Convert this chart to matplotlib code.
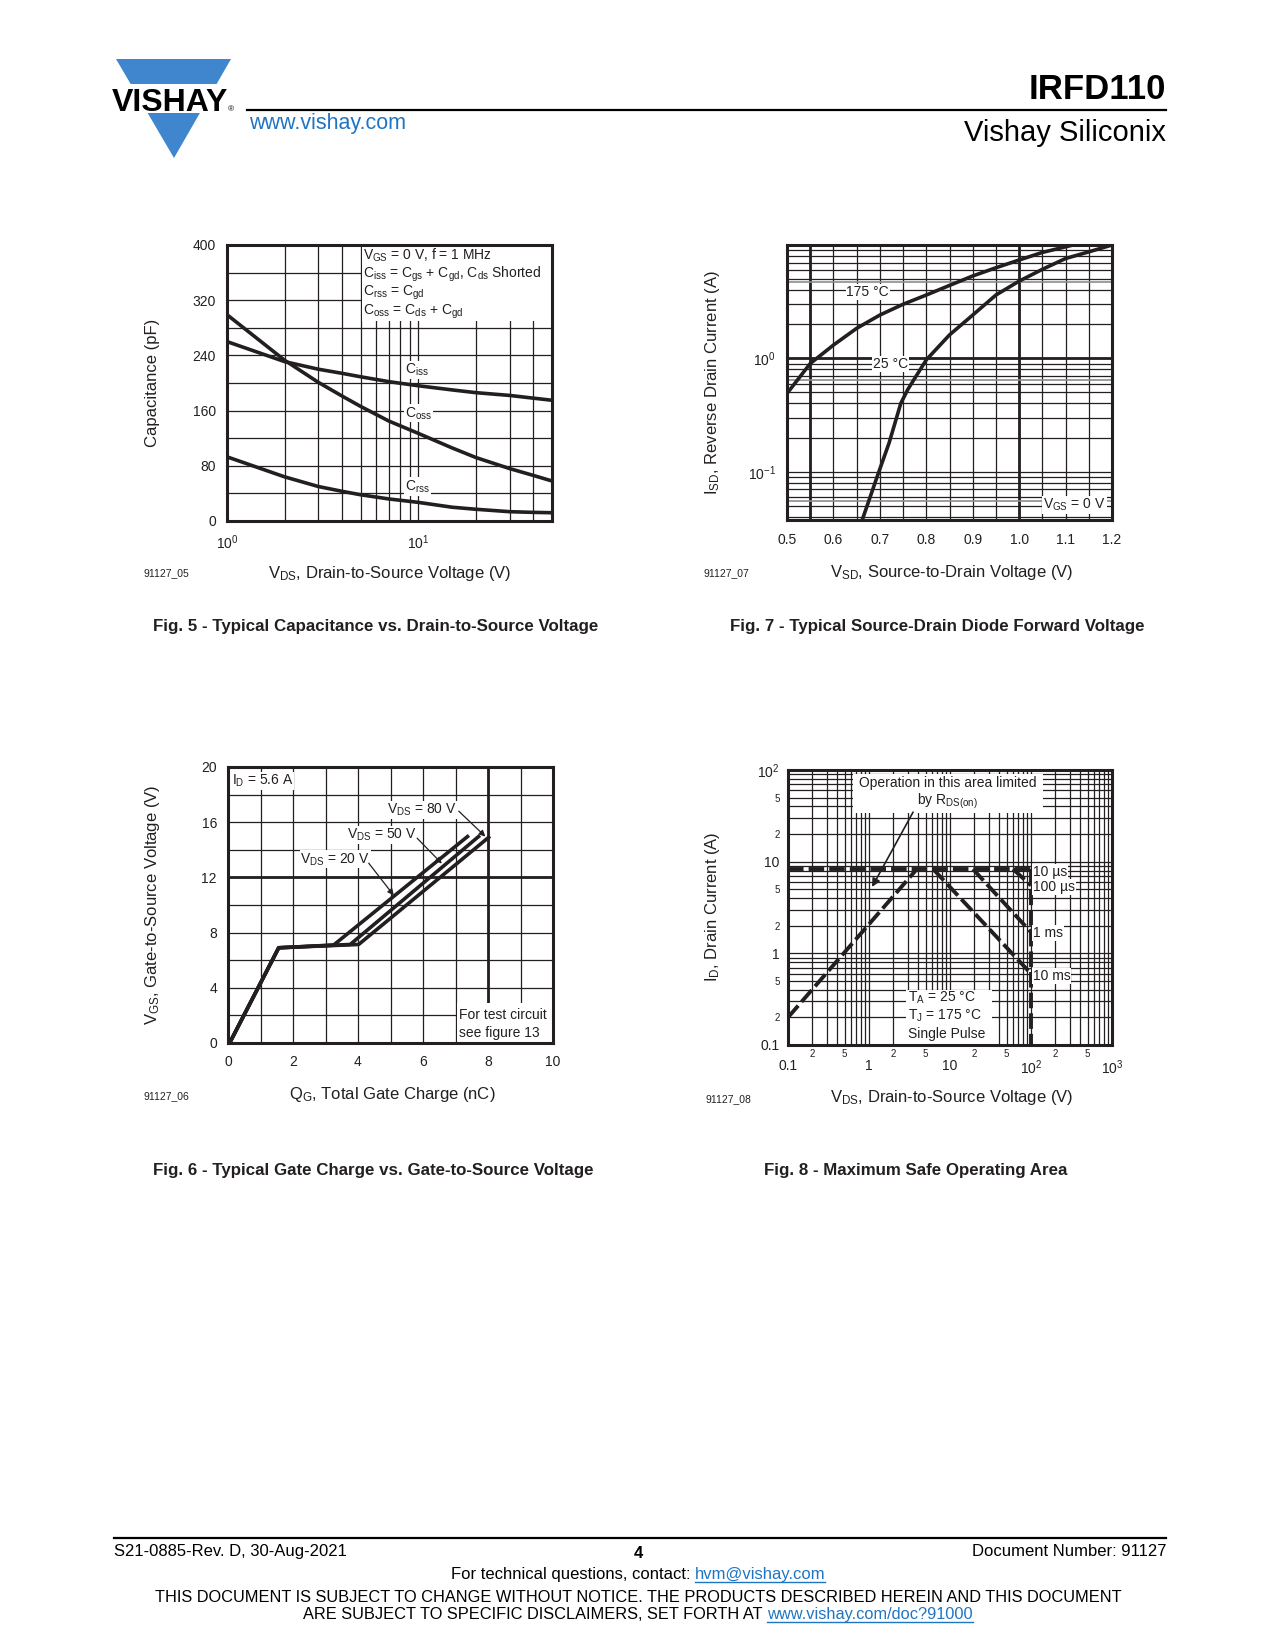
import numpy as np
import matplotlib
matplotlib.use("Agg")
import matplotlib.pyplot as plt
from matplotlib.patches import Polygon, Rectangle
from matplotlib.ticker import FixedLocator, FixedFormatter, FuncFormatter, NullFormatter

W, H = 1275, 1650
INK = "#231f20"
BLUE = "#3f86cf"
LINK = "#1f75c4"

plt.rcParams["font.family"] = ["Liberation Sans", "DejaVu Sans"]
plt.rcParams["mathtext.fontset"] = "custom"
plt.rcParams["mathtext.rm"] = "Liberation Sans"
plt.rcParams["mathtext.it"] = "Liberation Sans:italic"
plt.rcParams["mathtext.bf"] = "Liberation Sans:bold"
plt.rcParams["text.color"] = INK

# Fig. 5 - capacitance vs VDS
cap_vds = [1, 2, 3, 4, 5, 7, 10, 15, 20, 30, 40, 50]
ciss = [260, 231, 220, 214, 209, 202, 196, 190, 186, 182, 178, 175]
coss = [299, 233, 201, 181, 166, 145, 127, 106, 92, 76, 66, 58]
crss = [93, 64, 50, 43, 38, 32, 27, 20, 17, 13.5, 12.5, 12]

# Fig. 7 - source-drain diode forward voltage
vsd_175 = [0.5, 0.55, 0.6, 0.65, 0.7, 0.75, 0.8, 0.85, 0.9, 0.95, 1.0, 1.05, 1.116]
isd_175 = [0.49, 0.90, 1.31, 1.84, 2.41, 3.0, 3.62, 4.4, 5.33, 6.3, 7.37, 8.6, 10]
vsd_25 = [0.662, 0.694, 0.72, 0.745, 0.76, 0.8, 0.85, 0.9, 0.95, 1.0, 1.05, 1.1, 1.15, 1.2]
isd_25 = [0.0375, 0.090, 0.18, 0.40, 0.53, 0.97, 1.61, 2.41, 3.62, 4.8, 6.1, 7.6, 8.7, 10]

# Fig. 6 - gate charge
qg_20 = [0.05, 1.56, 3.25, 7.37]
vgs_20 = [0, 6.9, 7.1, 14.96]
qg_50 = [0.05, 1.56, 3.76, 7.71]
vgs_50 = [0, 6.9, 7.14, 14.96]
qg_80 = [0.05, 1.56, 4.02, 8.02]
vgs_80 = [0, 6.9, 7.14, 14.9]

# Fig. 8 - safe operating area
soa_rds_v = [0.1, 3.9]
soa_rds_i = [0.2, 8.3]
soa_top_v = [0.1, 100]
soa_top_i = [8.3, 8.3]
soa_bv_v = [100, 100]
soa_bv_i = [8.3, 0.1]
soa_10ms_v = [6.2, 100]
soa_10ms_i = [8.3, 0.6]
soa_1ms_v = [19.2, 100]
soa_1ms_i = [8.3, 1.7]
soa_100us_v = [60, 100]
soa_100us_i = [8.3, 5.5]

fig = plt.figure(figsize=(W / 100, H / 100), dpi=100)
fig.patch.set_facecolor("white")

bg = fig.add_axes([0, 0, 1, 1], zorder=-5)
bg.set_xlim(0, W)
bg.set_ylim(H, 0)
bg.axis("off")


def box(x0, y0, x1, y1):
    ax = fig.add_axes([x0 / W, 1 - y1 / H, (x1 - x0) / W, (y1 - y0) / H])
    for s in ax.spines.values():
        s.set_linewidth(2.2)
        s.set_color(INK)
    ax.tick_params(which="both", length=0, labelsize=10, colors=INK)
    ax.set_axisbelow(True)
    return ax


def lab(ax, x, y, s, **kw):
    kw.setdefault("ha", "left")
    kw.setdefault("va", "center")
    kw.setdefault("fontsize", 10)
    ax.text(x, y, s, zorder=4,
            bbox=dict(fc="white", ec="none", pad=0.6), **kw)


# ---------------- header ----------------
bg.add_patch(Polygon([[116, 59], [231, 59], [174, 158]], closed=True, fc=BLUE, ec="none"))
bg.add_patch(Rectangle((100, 84), 150, 29, fc="white", ec="none"))
logo = bg.text(112, 111, "VISHAY", fontsize=23, fontweight="bold", ha="left",
               va="baseline", color="black")
fig.canvas.draw()
lw_px = logo.get_window_extent(fig.canvas.get_renderer()).width
bg.text(112 + lw_px, 111, "®", fontsize=6, ha="left", va="baseline", color="black")
bg.plot([247, 1166], [110, 110], color="black", lw=1.6)
bg.text(1166, 99, "IRFD110", fontsize=25, fontweight="bold", ha="right", va="baseline",
        color="black")
bg.text(1166, 141, "Vishay Siliconix", fontsize=21, ha="right", va="baseline", color="black")
bg.text(249, 129, "www.vishay.com", fontsize=15.5, ha="left", va="baseline", color=LINK)

# ---------------- Fig. 5 ----------------
ax5 = box(227, 245, 552, 521)
ax5.set_xscale("log")
ax5.set_xlim(1, 50)
ax5.set_ylim(0, 400)
ax5.xaxis.set_major_locator(FixedLocator([1, 10]))
ax5.xaxis.set_major_formatter(FixedFormatter([r"$10^0$", r"$10^1$"]))
ax5.xaxis.set_minor_locator(FixedLocator([2, 3, 4, 5, 6, 7, 8, 9, 20, 30, 40]))
ax5.xaxis.set_minor_formatter(NullFormatter())
ax5.yaxis.set_major_locator(FixedLocator([0, 80, 160, 240, 320, 400]))
ax5.yaxis.set_minor_locator(FixedLocator([40, 120, 200, 280, 360]))
ax5.grid(which="both", color=INK, lw=0.9)
ax5.tick_params(axis="x", pad=9)
ax5.tick_params(axis="y", pad=8)
ax5.add_patch(Rectangle((5.06, 290), 50 - 5.06, 110, fc="white", ec="none", zorder=1))
for v in (ciss, coss, crss):
    ax5.plot(cap_vds, v, color=INK, lw=2.6, zorder=3)
ax5.text(5.15, 385, r"V$_{\rm GS}$ = 0 V, f = 1 MHz", fontsize=10, va="center", zorder=4)
ax5.text(5.15, 357, r"C$_{\rm iss}$ = C$_{\rm gs}$ + C$_{\rm gd}$, C$_{\rm ds}$ Shorted",
         fontsize=10, va="center", zorder=4)
ax5.text(5.15, 330, r"C$_{\rm rss}$ = C$_{\rm gd}$", fontsize=10, va="center", zorder=4)
ax5.text(5.15, 303, r"C$_{\rm oss}$ = C$_{\rm ds}$ + C$_{\rm gd}$", fontsize=10, va="center",
         zorder=4)
lab(ax5, 8.5, 219, r"C$_{\rm iss}$")
lab(ax5, 8.5, 156, r"C$_{\rm oss}$")
lab(ax5, 8.5, 50, r"C$_{\rm rss}$")

bg.text(153, 383, "Capacitance (pF)", fontsize=12, rotation=90, ha="center", va="center")
bg.text(390, 578, r"V$_{\rm DS}$, Drain-to-Source Voltage (V)", fontsize=12, ha="center",
        va="baseline")
bg.text(143, 576, "91127_05", fontsize=7.5, ha="left", va="baseline")
bg.text(153, 631, "Fig. 5 - Typical Capacitance vs. Drain-to-Source Voltage", fontsize=12.2,
        fontweight="bold", ha="left", va="baseline")

# ---------------- Fig. 7 ----------------
ax7 = box(787, 245, 1112, 520)
ax7.set_yscale("log")
ax7.set_xlim(0.5, 1.2)
ax7.set_ylim(0.0375, 10)
xt7 = [0.5, 0.6, 0.7, 0.8, 0.9, 1.0, 1.1, 1.2]
ax7.xaxis.set_major_locator(FixedLocator(xt7))
ax7.xaxis.set_major_formatter(FixedFormatter(["0.5", "0.6", "0.7", "0.8", "0.9", "1.0", "1.1", "1.2"]))
ax7.xaxis.set_minor_locator(FixedLocator([0.55, 0.65, 0.75, 0.85, 0.95, 1.05, 1.15]))
ax7.yaxis.set_major_locator(FixedLocator([0.1, 1]))
ax7.yaxis.set_major_formatter(FixedFormatter([r"$10^{-1}$", r"$10^0$"]))
ax7.yaxis.set_minor_locator(FixedLocator([m * 10.0 ** e for e in (-2, -1, 0) for m in range(2, 10)]))
ax7.yaxis.set_minor_formatter(NullFormatter())
ax7.grid(which="both", color=INK, lw=0.9)
ax7.tick_params(axis="x", pad=9)
ax7.tick_params(axis="y", pad=8)
for xv in (0.55, 1.0):
    ax7.axvline(xv, color=INK, lw=2.0, zorder=1)
ax7.axhline(1.0, color=INK, lw=2.0, zorder=1)
for yv in (0.055, 0.64, 4.7):
    ax7.axhline(yv, color="#8c8c8c", lw=1.2, zorder=1)
ax7.plot(vsd_175, isd_175, color=INK, lw=2.6, zorder=3)
ax7.plot(vsd_25, isd_25, color=INK, lw=2.6, zorder=3)
lab(ax7, 0.628, 3.87, "175 °C")
lab(ax7, 0.685, 0.89, "25 °C")
lab(ax7, 1.052, 0.0508, r"V$_{\rm GS}$ = 0 V")

bg.text(712, 383, r"I$_{\rm SD}$, Reverse Drain Current (A)", fontsize=12, rotation=90,
        ha="center", va="center")
bg.text(952, 577, r"V$_{\rm SD}$, Source-to-Drain Voltage (V)", fontsize=12, ha="center",
        va="baseline")
bg.text(704, 576, "91127_07", fontsize=7.5, ha="left", va="baseline")
bg.text(937, 631, "Fig. 7 - Typical Source-Drain Diode Forward Voltage", fontsize=12.2,
        fontweight="bold", ha="center", va="baseline")

# ---------------- Fig. 6 ----------------
ax6 = box(228, 767, 553, 1043)
ax6.set_xlim(0, 10)
ax6.set_ylim(0, 20)
ax6.xaxis.set_major_locator(FixedLocator([0, 2, 4, 6, 8, 10]))
ax6.xaxis.set_minor_locator(FixedLocator([1, 3, 5, 7, 9]))
ax6.yaxis.set_major_locator(FixedLocator([0, 4, 8, 12, 16, 20]))
ax6.yaxis.set_minor_locator(FixedLocator([2, 6, 10, 14, 18]))
ax6.grid(which="both", color=INK, lw=0.9)
ax6.tick_params(axis="x", pad=9)
ax6.tick_params(axis="y", pad=8)
ax6.axvline(8, ymin=2.9 / 20, color=INK, lw=2.0, zorder=1)
ax6.axhline(12, color=INK, lw=2.0, zorder=1)
ax6.add_patch(Rectangle((7.05, 0), 2.95, 2.9, fc="white", ec="none", zorder=1.5))
ax6.text(7.1, 2.0, "For test circuit", fontsize=10, va="center", zorder=4)
ax6.text(7.1, 0.75, "see figure 13", fontsize=10, va="center", zorder=4)
for q, v in ((qg_20, vgs_20), (qg_50, vgs_50), (qg_80, vgs_80)):
    ax6.plot(q, v, color=INK, lw=2.6, zorder=3)
lab(ax6, 0.12, 19.0, r"I$_{\rm D}$ = 5.6 A")
arrow = dict(arrowstyle="-|>", color=INK, lw=0.9, mutation_scale=9, shrinkA=0, shrinkB=0)
lab(ax6, 4.9, 16.9, r"V$_{\rm DS}$ = 80 V")
ax6.annotate("", xy=(7.92, 14.96), xytext=(7.1, 16.8), arrowprops=arrow, zorder=4)
lab(ax6, 3.66, 15.1, r"V$_{\rm DS}$ = 50 V")
ax6.annotate("", xy=(6.58, 13.0), xytext=(5.82, 14.84), arrowprops=arrow, zorder=4)
lab(ax6, 2.23, 13.3, r"V$_{\rm DS}$ = 20 V")
ax6.annotate("", xy=(5.1, 10.7), xytext=(4.33, 13.03), arrowprops=arrow, zorder=4)

bg.text(153, 905, r"V$_{\rm GS}$, Gate-to-Source Voltage (V)", fontsize=12, rotation=90,
        ha="center", va="center")
bg.text(392, 1099, r"Q$_{\rm G}$, Total Gate Charge (nC)", fontsize=12, ha="center",
        va="baseline")
bg.text(144, 1099, "91127_06", fontsize=7.5, ha="left", va="baseline")
bg.text(153, 1175, "Fig. 6 - Typical Gate Charge vs. Gate-to-Source Voltage", fontsize=12.2,
        fontweight="bold", ha="left", va="baseline")

# ---------------- Fig. 8 ----------------
ax8 = box(788, 770, 1112, 1045)
ax8.set_xscale("log")
ax8.set_yscale("log")
ax8.set_xlim(0.1, 1000)
ax8.set_ylim(0.1, 100)


def minor_lab(v, pos):
    m = int(round(v / 10 ** np.floor(np.log10(v) + 1e-9)))
    return str(m) if m in (2, 5) else ""


ax8.xaxis.set_major_locator(FixedLocator([0.1, 1, 10, 100, 1000]))
ax8.xaxis.set_major_formatter(FixedFormatter(["0.1", "1", "10", r"$10^2$", r"$10^3$"]))
ax8.xaxis.set_minor_locator(FixedLocator([m * 10.0 ** e for e in (-1, 0, 1, 2) for m in range(2, 10)]))
ax8.xaxis.set_minor_formatter(FuncFormatter(minor_lab))
ax8.yaxis.set_major_locator(FixedLocator([0.1, 1, 10, 100]))
ax8.yaxis.set_major_formatter(FixedFormatter(["0.1", "1", "10", r"$10^2$"]))
ax8.yaxis.set_minor_locator(FixedLocator([m * 10.0 ** e for e in (-1, 0, 1) for m in range(2, 10)]))
ax8.yaxis.set_minor_formatter(FuncFormatter(minor_lab))
ax8.tick_params(which="minor", labelsize=7)
ax8.tick_params(axis="x", which="major", pad=10)
ax8.tick_params(axis="x", which="minor", pad=3)
ax8.tick_params(axis="y", which="both", pad=6)
ax8.grid(which="both", color=INK, lw=0.9)
ax8.add_patch(Rectangle((0.63, 34), 140 - 0.63, 90 - 34, fc="white", ec="none", zorder=1.5))
ax8.add_patch(Rectangle((2.9, 0.1), 33 - 2.9, 0.4 - 0.1, fc="white", ec="none", zorder=1.5))
dash = dict(color=INK, lw=2.8, ls=(0, (4, 1.3)), zorder=3)
ax8.plot(soa_rds_v, soa_rds_i, **dash)
ax8.plot(soa_top_v, soa_top_i, **dash)
ax8.plot(soa_bv_v, soa_bv_i, **dash)
ax8.plot(soa_10ms_v, soa_10ms_i, **dash)
ax8.plot(soa_1ms_v, soa_1ms_i, **dash)
ax8.plot(soa_100us_v, soa_100us_i, **dash)
ax8.text(9.4, 72, "Operation in this area limited", fontsize=10, ha="center", va="center",
         zorder=4)
ax8.text(9.4, 46, r"by R$_{\rm DS(on)}$", fontsize=10, ha="center", va="center", zorder=4)
ax8.annotate("", xy=(1.09, 5.3), xytext=(3.5, 34.7), zorder=4,
             arrowprops=dict(arrowstyle="-|>", color=INK, lw=1.2, mutation_scale=12,
                             shrinkA=0, shrinkB=0))
ax8.text(3.0, 0.326, r"T$_{\rm A}$ = 25 °C", fontsize=10, va="center", zorder=4)
ax8.text(3.0, 0.207, r"T$_{\rm J}$ = 175 °C", fontsize=10, va="center", zorder=4)
ax8.text(3.0, 0.132, "Single Pulse", fontsize=10, va="center", zorder=4)
lab(ax8, 105, 7.7, "10 µs")
lab(ax8, 105, 5.3, "100 µs")
lab(ax8, 105, 1.66, "1 ms")
lab(ax8, 105, 0.565, "10 ms")

bg.text(712, 907, r"I$_{\rm D}$, Drain Current (A)", fontsize=12, rotation=90, ha="center",
        va="center")
bg.text(952, 1102, r"V$_{\rm DS}$, Drain-to-Source Voltage (V)", fontsize=12, ha="center",
        va="baseline")
bg.text(705, 1102, "91127_08", fontsize=7.5, ha="left", va="baseline")
bg.text(916, 1175, "Fig. 8 - Maximum Safe Operating Area", fontsize=12.2, fontweight="bold",
        ha="center", va="baseline")

# ---------------- footer ----------------
bg.plot([114, 1166], [1538, 1538], color="black", lw=1.6)
bg.text(114, 1556, "S21-0885-Rev. D, 30-Aug-2021", fontsize=12, ha="left", va="baseline",
        color="black")
bg.text(638, 1558, "4", fontsize=12, fontweight="bold", ha="center", va="baseline",
        color="black")
bg.text(1166, 1556, "Document Number: 91127", fontsize=12, ha="right", va="baseline",
        color="black")


def run_line(xc, y, parts, size):
    objs = [bg.text(0, y, s, fontsize=size, color=c, ha="left", va="baseline")
            for s, c, _ in parts]
    fig.canvas.draw()
    r = fig.canvas.get_renderer()
    widths = [o.get_window_extent(r).width for o in objs]
    x = xc - sum(widths) / 2
    for o, w, (s, c, link) in zip(objs, widths, parts):
        o.set_x(x)
        if link:
            bg.plot([x, x + w], [y + 2.5, y + 2.5], color=c, lw=1)
        x += w


run_line(638, 1579, [("For technical questions, contact: ", "black", False),
                     ("hvm@vishay.com", LINK, True)], 12)
run_line(638, 1602, [("THIS DOCUMENT IS SUBJECT TO CHANGE WITHOUT NOTICE. THE PRODUCTS "
                      "DESCRIBED HEREIN AND THIS DOCUMENT", "black", False)], 11.8)
run_line(638, 1619, [("ARE SUBJECT TO SPECIFIC DISCLAIMERS, SET FORTH AT ", "black", False),
                     ("www.vishay.com/doc?91000", LINK, True)], 11.8)

fig.savefig("out.png", dpi=100, facecolor="white")
